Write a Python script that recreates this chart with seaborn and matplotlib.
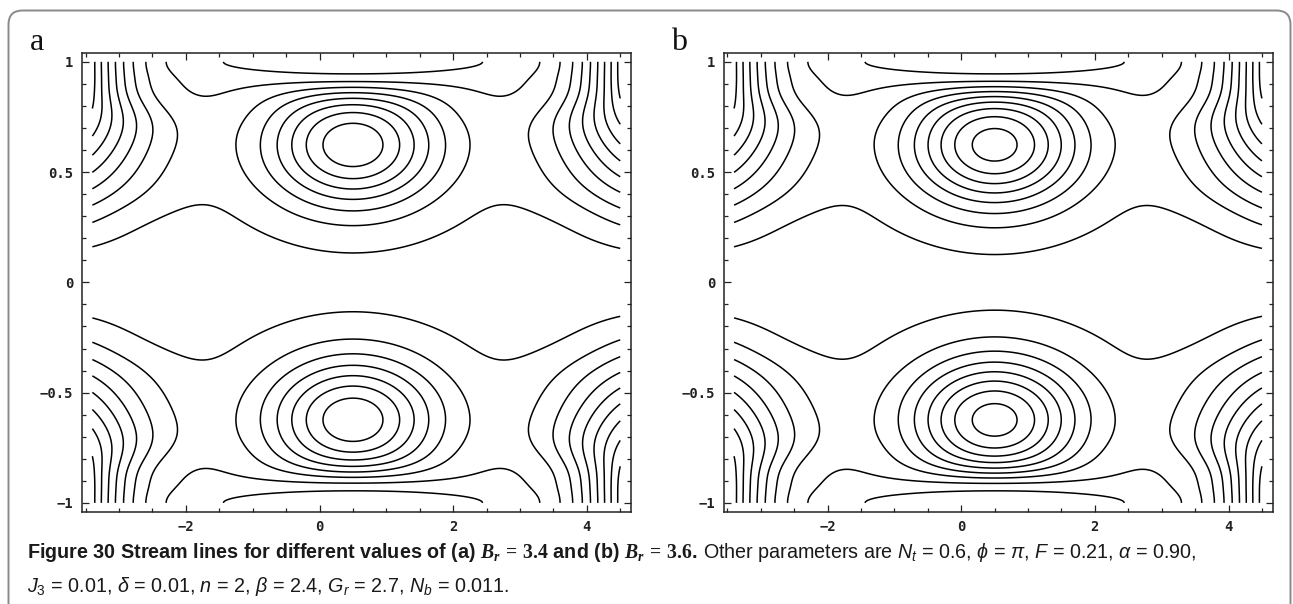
import numpy as np
import matplotlib
matplotlib.use("Agg")
import matplotlib.pyplot as plt
import seaborn as sns
from matplotlib.patches import FancyBboxPatch
from matplotlib.transforms import IdentityTransform
from matplotlib.ticker import FixedLocator, FixedFormatter, MultipleLocator

# ---------------------------------------------------------------- data
panel_tags = ["a", "b"]
brinkman = [3.4, 3.6]
core_strength = [1.00, 1.10]          # peak of the trapped bolus for each Br
contour_levels = [-0.104, 0.039, 0.182, 0.325, 0.468, 0.611, 0.754,
                  0.897, 1.040, 1.183, 1.326, 1.469]
x_range = [-3.4, 4.5]
y_range = [-1.0, 1.0]
x_ticks = [-2, 0, 2, 4]
x_tick_labels = ["\u22122", "0", "2", "4"]
y_ticks = [-1, -0.5, 0, 0.5, 1]
y_tick_labels = ["\u22121", "\u22120.5", "0", "0.5", "1"]

# ---------------------------------------------------------------- style
sns.set_theme(style="ticks")
plt.rcParams["font.family"] = ["Liberation Sans", "DejaVu Sans"]
plt.rcParams["mathtext.fontset"] = "custom"
plt.rcParams["mathtext.rm"] = "Liberation Sans"
plt.rcParams["mathtext.it"] = "Liberation Sans:italic"
plt.rcParams["mathtext.bf"] = "Liberation Serif:bold"
plt.rcParams["mathtext.bfit"] = "Liberation Serif:italic:bold"
plt.rcParams["axes.linewidth"] = 1.1
plt.rcParams["axes.edgecolor"] = "#222222"

W, H = 1293, 604


def softplus(z, w):
    return w * np.logaddexp(0.0, z / w)


def stream_function(x, y, strength):
    """Wave-frame stream function: trapped bolus at x=0.5, wall-side cells."""
    X = x - 0.5
    s = np.abs(y)
    # trapped bolus, squeezed against the upper wall
    dy = s - 0.625
    up = np.clip(dy / 0.39, 0.0, 0.995)
    dye = np.where(dy > 0, dy / (1.0 - up ** 3), dy)
    core = strength * np.exp(-((X / 4.5) ** 2 + dye ** 2) / (2 * 0.2 ** 2))
    # retarded layer under the wall above the bolus
    lid = -0.245 * np.exp(-((1.0 - s) / 0.06) ** 2) * np.exp(-(X / 2.13) ** 2)
    # strong cells next to the channel ends
    ramp = 1.9 * (softplus(s - 0.183, 0.05) - softplus(s - 0.765, 0.07))
    dist = 4.6 - np.abs(X)
    widen = np.exp(-((s - 0.55) / 0.26) ** 4)
    sig = 0.73 * (1.0 + 0.37 * widen)
    side = ramp * np.exp(-(dist ** 2 - 0.49) / (2 * sig ** 2))
    band = 0.015 * np.exp(-((s - 0.55) / 0.25) ** 2)
    axis = -0.013 * np.exp(-(s / 0.3) ** 2)
    return core + lid + side + band + axis


xg = np.linspace(x_range[0], x_range[1], 900)
yg = np.linspace(y_range[0], y_range[1], 501)
xx, yy = np.meshgrid(xg, yg)

fig = plt.figure(figsize=(W / 100, H / 100), dpi=100)
fig.patch.set_facecolor("white")

axes_px = [(81.8, 92.3, 549.0, 458.7), (723.5, 92.3, 549.0, 458.7)]
xpad = 0.02 * (x_range[1] - x_range[0])
ypad = 0.02 * (y_range[1] - y_range[0])

for tag, br, amp, (l, b, w_, h_) in zip(panel_tags, brinkman, core_strength, axes_px):
    ax = fig.add_axes([l / W, b / H, w_ / W, h_ / H])
    psi = stream_function(xx, yy, amp)
    ax.contour(xx, yy, psi, levels=contour_levels, colors="black",
               linewidths=1.1, linestyles="solid")
    ax.set_xlim(x_range[0] - xpad, x_range[1] + xpad)
    ax.set_ylim(y_range[0] - ypad, y_range[1] + ypad)
    ax.xaxis.set_major_locator(FixedLocator(x_ticks))
    ax.xaxis.set_major_formatter(FixedFormatter(x_tick_labels))
    ax.xaxis.set_minor_locator(MultipleLocator(0.5))
    ax.yaxis.set_major_locator(FixedLocator(y_ticks))
    ax.yaxis.set_major_formatter(FixedFormatter(y_tick_labels))
    ax.yaxis.set_minor_locator(MultipleLocator(0.1))
    ax.tick_params(which="both", direction="in", top=True, right=True,
                   labeltop=False, labelright=False, color="#222222", width=0.9)
    ax.tick_params(which="major", length=5, pad=6)
    ax.tick_params(which="minor", length=3)
    for lab in ax.get_xticklabels() + ax.get_yticklabels():
        lab.set_fontfamily("DejaVu Sans Mono")
        lab.set_fontweight("bold")
        lab.set_fontsize(10)
        lab.set_color("#222222")
    ax.set_facecolor("white")
    fig.text((l - 52) / W, (H - 50) / H, tag, family="Liberation Serif",
             fontsize=23, color="#111111")

# rounded frame around the figure block
frame = FancyBboxPatch((8.5, -60), 1282, H - 10 + 60 - 0.5,
                       boxstyle="round,pad=0,rounding_size=14",
                       transform=IdentityTransform(), facecolor="none",
                       edgecolor="#8a8a8a", linewidth=1.4)
fig.add_artist(frame)

# caption
renderer = fig.canvas.get_renderer()
cap_size = 14.2
bold_run = ("Figure 30 Stream lines for different values of (a) "
            r"$\mathbfit{B_r}\,\mathbf{=}\,\mathbf{3.4}$ and (b) "
            r"$\mathbfit{B_r}\,\mathbf{=}\,\mathbf{3.6}$.")
t1 = fig.text(27, H - 558.5, bold_run, transform=IdentityTransform(),
              fontsize=cap_size, fontweight="bold", color="#1a1a1a")
bb = t1.get_window_extent(renderer)
fig.text(bb.x1 + 5, H - 558.5,
         r"Other parameters are $N_t$ = 0.6, $\phi$ = $\pi$, $F$ = 0.21, $\alpha$ = 0.90,",
         transform=IdentityTransform(), fontsize=cap_size, color="#1a1a1a")
fig.text(27, H - 591.5,
         r"$J_3$ = 0.01, $\delta$ = 0.01, $n$ = 2, $\beta$ = 2.4, $G_r$ = 2.7, $N_b$ = 0.011.",
         transform=IdentityTransform(), fontsize=cap_size, color="#1a1a1a")

fig.savefig("out.png", dpi=100, facecolor="white")
